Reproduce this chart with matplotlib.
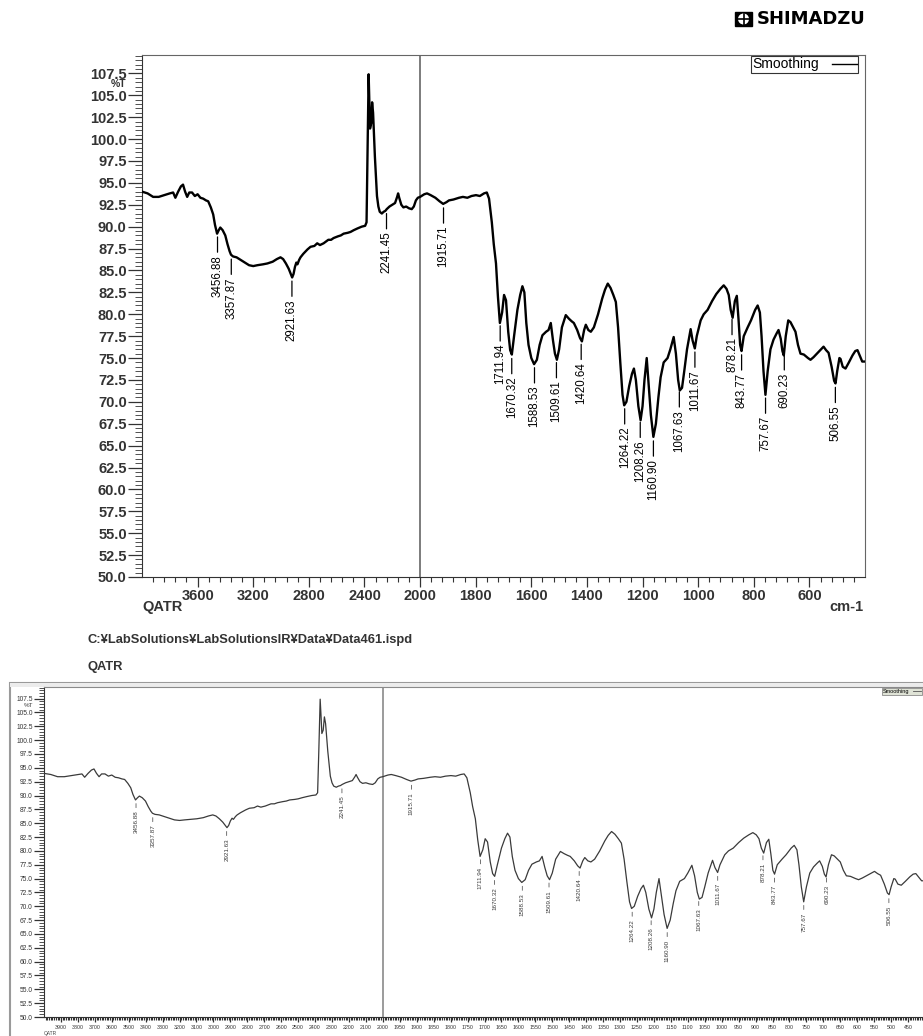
import numpy as np
import matplotlib
matplotlib.use("Agg")
import matplotlib.pyplot as plt
from matplotlib import font_manager
from matplotlib.ticker import FixedLocator, FuncFormatter
from matplotlib.lines import Line2D
from matplotlib.patches import Rectangle, Ellipse

# spectrum (cm-1, %T)
wavenumber = [4000, 3960, 3920, 3880, 3840, 3800, 3776, 3760, 3740, 3720, 3705, 3690, 3675, 3660,
              3640, 3620, 3600, 3580, 3560, 3540, 3524, 3505, 3488, 3475, 3460, 3448, 3437, 3420,
              3401, 3385, 3370, 3360, 3345, 3320, 3290, 3260, 3230, 3200, 3170, 3130, 3098, 3060,
              3030, 3004, 2985, 2965, 2945, 2930, 2920, 2910, 2900, 2890, 2882, 2870, 2860, 2840,
              2810, 2788, 2760, 2740, 2720, 2694, 2660, 2640, 2622, 2590, 2570, 2550, 2520, 2500,
              2477, 2450, 2420, 2395, 2385, 2378, 2370, 2365, 2360, 2352, 2345, 2338, 2325, 2310,
              2300, 2290, 2275, 2262, 2250, 2240, 2220, 2200, 2180, 2165, 2158, 2150, 2135, 2120,
              2100, 2080, 2060, 2045, 2030, 2016, 2000, 1985, 1975, 1962, 1945, 1930, 1917, 1905,
              1896, 1880, 1860, 1846, 1830, 1815, 1799, 1785, 1770, 1760, 1752, 1742, 1735, 1727,
              1720, 1713, 1705, 1698, 1691, 1683, 1676, 1670, 1662, 1650, 1640, 1632, 1625, 1618,
              1610, 1600, 1590, 1580, 1570, 1560, 1547, 1538, 1530, 1522, 1515, 1508, 1500, 1490,
              1476, 1465, 1455, 1447, 1435, 1425, 1418, 1410, 1404, 1395, 1386, 1375, 1360, 1345,
              1335, 1325, 1315, 1305, 1296, 1288, 1280, 1272, 1266, 1258, 1248, 1238, 1231, 1224,
              1215, 1207, 1200, 1193, 1185, 1178, 1170, 1161, 1152, 1143, 1135, 1124, 1110, 1100,
              1088, 1080, 1072, 1066, 1058, 1050, 1040, 1027, 1020, 1012, 1005, 991, 980, 966,
              950, 935, 920, 908, 898, 890, 883, 876, 868, 861, 855, 849, 844, 836, 822, 810, 795,
              786, 778, 772, 765, 758, 750, 740, 729, 718, 711, 703, 697, 692, 685, 676, 668, 660,
              650, 641, 632, 620, 605, 596, 585, 570, 555, 549, 540, 531, 520, 511, 506, 500, 492,
              488, 480, 470, 458, 445, 435, 427, 418, 410, 400]
transmittance = [94.0, 93.8, 93.4, 93.4, 93.6, 93.8, 93.9, 93.3, 94.0, 94.6, 94.8, 94.0, 93.4, 93.9,
                 93.9, 93.5, 93.7, 93.3, 93.2, 93.0, 92.9, 92.2, 91.4, 90.2, 89.2, 89.6, 89.9, 89.6,
                 89.0, 88.0, 87.2, 86.8, 86.6, 86.5, 86.2, 85.9, 85.6, 85.5, 85.6, 85.7, 85.8, 86.0,
                 86.3, 86.5, 86.3, 85.8, 85.2, 84.6, 84.2, 84.6, 85.4, 85.9, 85.7, 86.2, 86.5, 86.9,
                 87.4, 87.7, 87.8, 88.1, 87.9, 88.1, 88.5, 88.5, 88.7, 88.9, 89.0, 89.2, 89.3, 89.4,
                 89.6, 89.8, 90.0, 90.1, 90.5, 98.0, 107.4, 104.5, 101.2, 101.8, 104.2, 103.0, 98.0, 93.5,
                 92.3, 91.7, 91.5, 91.7, 91.8, 92.0, 92.3, 92.5, 92.7, 93.4, 93.8, 93.3, 92.5, 92.2,
                 92.3, 92.1, 92.0, 92.3, 93.0, 93.3, 93.4, 93.7, 93.8, 93.6, 93.3, 92.9, 92.6, 92.8,
                 93.0, 93.1, 93.3, 93.4, 93.3, 93.5, 93.6, 93.5, 93.8, 93.9, 93.2, 90.5, 88.0, 85.8,
                 82.0, 79.0, 80.2, 82.2, 81.6, 78.0, 75.9, 75.4, 77.5, 80.5, 82.2, 83.2, 82.5, 79.0,
                 76.5, 75.0, 74.3, 74.8, 76.5, 77.6, 78.0, 78.2, 79.0, 77.0, 75.5, 74.8, 76.0, 78.5,
                 79.9, 79.5, 79.2, 79.0, 78.2, 77.3, 76.9, 78.2, 78.8, 78.2, 78.0, 78.5, 80.0, 81.8,
                 82.8, 83.5, 83.0, 82.2, 81.4, 78.5, 74.5, 70.8, 69.6, 70.0, 71.8, 73.2, 73.8, 72.5,
                 69.5, 67.9, 69.5, 72.5, 75.0, 72.0, 68.5, 66.0, 67.5, 70.5, 72.8, 74.5, 75.0, 76.0,
                 77.4, 75.5, 72.5, 71.3, 71.6, 73.5, 76.0, 78.3, 77.0, 76.1, 77.5, 79.3, 80.0, 80.5,
                 81.5, 82.3, 82.9, 83.3, 82.9, 82.2, 80.5, 79.6, 81.5, 82.1, 79.5, 76.5, 75.8, 77.5, 78.5, 79.3, 80.5,
                 81.0, 80.2, 77.5, 73.5, 70.8, 73.5, 76.0, 77.1, 77.8, 78.2, 77.2, 75.8, 75.3, 77.5, 79.3, 79.1, 78.6,
                 78.0, 76.5, 75.5, 75.4, 75.0, 74.8, 75.1, 75.6, 76.1, 76.3, 75.9, 75.6, 74.0, 72.4, 72.1, 73.5, 75.0,
                 74.9, 74.0, 73.8, 74.5, 75.3, 75.8, 75.9, 75.2, 74.6, 74.6]

peaks = [3456.88, 3357.87, 2921.63, 2241.45, 1915.71, 1711.94, 1670.32, 1588.53, 1509.61,
         1420.64, 1264.22, 1208.26, 1160.90, 1067.63, 1011.67, 878.21, 843.77, 757.67,
         690.23, 506.55]

top_major = [3600, 3200, 2800, 2400, 2000, 1800, 1600, 1400, 1200, 1000, 800, 600]
bottom_major = list(range(3900, 1999, -100)) + list(range(1950, 449, -50))

installed = {f.name for f in font_manager.fontManager.ttflist}
narrow = 'Liberation Sans Narrow' if 'Liberation Sans Narrow' in installed else 'Liberation Sans'
plt.rcParams['font.family'] = ['Liberation Sans', 'DejaVu Sans']

wn = np.array(wavenumber, dtype=float)
tr = np.array(transmittance, dtype=float)
peak_t = np.interp(peaks, wn[::-1], tr[::-1])


# IR plots use double expansion below 2000 cm-1
def fwd(w):
    w = np.asarray(w, dtype=float)
    return np.where(w >= 2000, w, 2 * w - 2000)


def inv(u):
    u = np.asarray(u, dtype=float)
    return np.where(u >= 2000, u, (u + 2000) / 2)


W, H = 923, 1036
fig = plt.figure(figsize=(W / 100, H / 100), dpi=100)


def box(l, t, r, b):
    return [l / W, 1 - b / H, (r - l) / W, (b - t) / H]


def setup(ax, major, minor, lw, col, tsize, lsize, off, gap, tlen, ylen, grey):
    ax.plot(wn, tr, color=col, lw=lw, zorder=3)
    ax.set_xscale('function', functions=(fwd, inv))
    ax.set_xlim(4000, 400)
    ax.set_ylim(50, 109.6)
    ax.axvline(2000, color=grey, lw=1.2, zorder=2)
    ax.xaxis.set_major_locator(FixedLocator(major))
    ax.xaxis.set_minor_locator(FixedLocator(minor))
    ax.xaxis.set_major_formatter(FuncFormatter(lambda v, p: f'{v:.0f}'))
    ax.yaxis.set_major_locator(FixedLocator(np.arange(50, 108, 2.5)))
    ax.yaxis.set_minor_locator(FixedLocator(np.arange(50, 109.6, 0.5)))
    ax.yaxis.set_major_formatter(FuncFormatter(lambda v, p: f'{v:.1f}'))
    for s in ['top', 'right']:
        ax.spines[s].set_color(grey)
    for s in ['left', 'bottom']:
        ax.spines[s].set_color('#333333')
    ax.tick_params(axis='y', which='major', length=ylen[0], width=0.9, pad=1, labelsize=tsize,
                   colors='#333333')
    ax.tick_params(axis='y', which='minor', length=ylen[1], width=0.6, color='#333333')
    ax.tick_params(axis='x', which='major', length=tlen[0], width=0.9, pad=2, labelsize=tsize,
                   colors='#333333')
    ax.tick_params(axis='x', which='minor', length=tlen[1], width=0.8, color='#333333')
    for w, t in zip(peaks, peak_t):
        ax.annotate(f'{w:.2f}', xy=(w, t), xytext=(0, -gap), textcoords='offset points',
                    rotation=90, ha='center', va='top', fontsize=lsize, color=col,
                    family=[narrow, 'DejaVu Sans'],
                    arrowprops=dict(arrowstyle='-', lw=off, color=col, shrinkA=0, shrinkB=3,
                                    relpos=(0.5, 1.0)))


# main spectrum
ax = fig.add_axes(box(142, 55, 865, 577))
setup(ax, top_major,
      np.r_[np.arange(2080, 4000, 80), np.arange(440, 2000, 40)],
      1.7, 'black', 10.5, 8.3, 0.9, 16, (7, 3.6), (10, 5), '#666666')
for lab in ax.get_xticklabels() + ax.get_yticklabels():
    lab.set_fontweight('bold')
ax.annotate('%T', xy=(-0.021, 106.25), xycoords=('axes fraction', 'data'), ha='right',
            va='center', fontsize=7.5, fontweight='bold', color='#333333')
leg = ax.legend([Line2D([], [], color='black', lw=1)], ['Smoothing'], loc='upper right',
                bbox_to_anchor=(1 - 7 / 723, 1 - 1 / 522), borderaxespad=0, fancybox=False,
                edgecolor='#333333', framealpha=1, markerfirst=False, handlelength=1.8,
                fontsize=10, borderpad=0.1, handletextpad=0.9)
leg.get_frame().set_linewidth(0.8)

fig.text(142 / W, 1 - 607 / H, 'QATR', ha='left', va='center', fontsize=10.5,
         fontweight='bold', color='#333333')
fig.text(863 / W, 1 - 607 / H, 'cm-1', ha='right', va='center', fontsize=10.5,
         fontweight='bold', color='#333333')

# logo
fig.add_artist(Rectangle((735 / W, 1 - 26 / H), 17 / W, 14 / H, transform=fig.transFigure,
                         facecolor='black', edgecolor='black'))
fig.add_artist(Ellipse((743.5 / W, 1 - 19 / H), 11 / W, 11 / H, transform=fig.transFigure,
                       facecolor='white', edgecolor='none'))
fig.add_artist(Line2D([743.5 / W, 743.5 / W], [1 - 24.5 / H, 1 - 13.5 / H],
                      transform=fig.transFigure, color='black', lw=1.2))
fig.add_artist(Line2D([738 / W, 749 / W], [1 - 19 / H, 1 - 19 / H],
                      transform=fig.transFigure, color='black', lw=1.2))
fig.text(757 / W, 1 - 19 / H, 'SHIMADZU', ha='left', va='center', fontsize=13,
         fontweight='bold', family=['DejaVu Sans'])

fig.text(87 / W, 1 - 640 / H, 'C:¥LabSolutions¥LabSolutionsIR¥Data¥Data461.ispd', ha='left',
         va='center', fontsize=9.3, fontweight='bold', color='#333333')
fig.text(87 / W, 1 - 667 / H, 'QATR', ha='left', va='center', fontsize=9.3,
         fontweight='bold', color='#333333')

# screenshot copy below
fig.add_artist(Rectangle((10 / W, -0.01), 1.0, (1036 - 683) / H + 0.01,
                         transform=fig.transFigure, facecolor='white', edgecolor='#9a9a9a',
                         lw=1.5, zorder=0))
fig.add_artist(Rectangle((10 / W, 1 - 687 / H), 1.0, 4 / H, transform=fig.transFigure,
                         facecolor='#ececec', edgecolor='none', zorder=0))
ax2 = fig.add_axes(box(44, 687, 925, 1017))
setup(ax2, bottom_major,
      np.r_[np.arange(2010, 4000, 10), np.arange(405, 2000, 5)],
      0.9, '#3a3a3a', 3.8, 4.5, 0.5, 8, (3.5, 2), (7, 3.5), '#8a8a8a')
ax2.tick_params(axis='y', labelsize=4.8)
ax2.annotate('%T', xy=(-0.012, 106.2), xycoords=('axes fraction', 'data'), ha='right',
             va='center', fontsize=4.5, color='#444444')
leg2 = ax2.legend([Line2D([], [], color='#555555', lw=0.6)], ['Smoothing'], loc='upper right',
                  bbox_to_anchor=(1 - 3 / 881, 1 - 1 / 330), borderaxespad=0, fancybox=False,
                  edgecolor='#777777', facecolor='#dfe3d6', framealpha=1, markerfirst=False,
                  handlelength=1.5, fontsize=4, borderpad=0.15, handletextpad=0.6)
leg2.get_frame().set_linewidth(0.5)
fig.text(44 / W, 1 - 1033 / H, 'QATR', ha='left', va='center', fontsize=3.5, color='#444444')

fig.savefig('out.png', dpi=100)
